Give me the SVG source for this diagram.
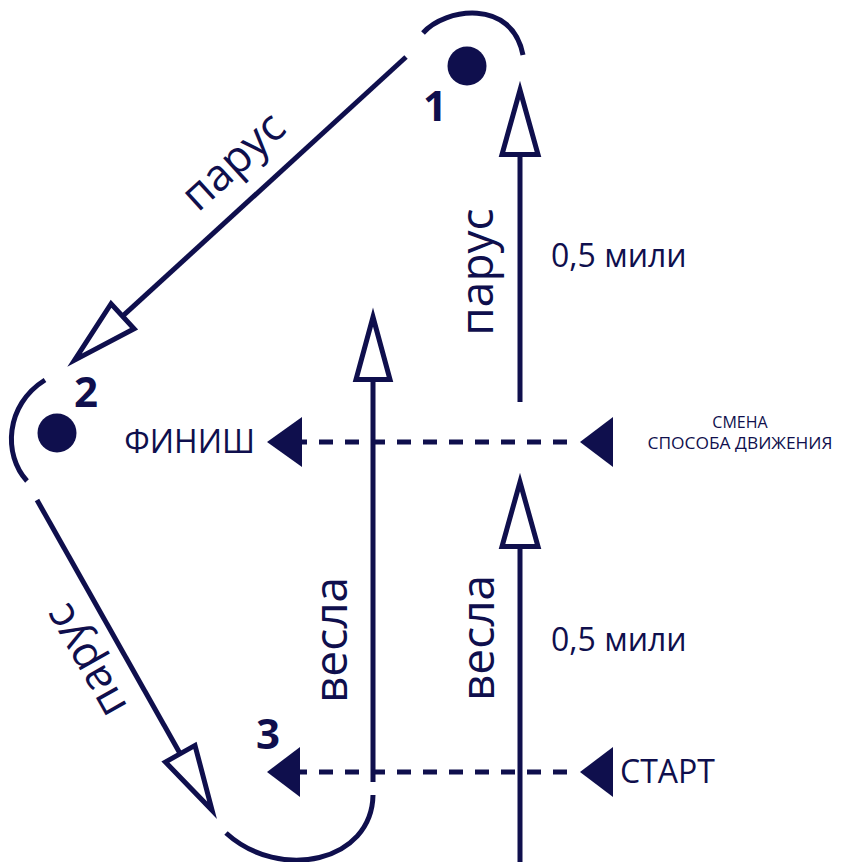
<svg xmlns="http://www.w3.org/2000/svg" width="847" height="862" viewBox="0 0 847 862">
  <defs>
    <style>
      .ln { stroke: #0f0f4d; stroke-width: 5; fill: none; }
      .dash { stroke: #0f0f4d; stroke-width: 5; fill: none; stroke-dasharray: 14 12; }
      .open { fill: #ffffff; stroke: #0f0f4d; stroke-width: 5; stroke-miterlimit: 10; stroke-linejoin: miter; }
      .solid { fill: #0f0f4d; stroke: none; }
      .t { font-family: "Open Sans", "Noto Sans", sans-serif; fill: #0f0f4d; }
      .big { font-size: 46px; }
      .diag { font-size: 44px; }
      .mid { font-size: 32px; }
      .lab { font-size: 32px; }
      .small { font-size: 16px; }
      .num { font-size: 42px; font-weight: 700; }
    </style>
  </defs>
  <rect width="847" height="862" fill="#ffffff"/>

  <g id="connectors">
    <!-- leg 1 -> 2 -->
    <line class="ln" x1="406" y1="57" x2="122.6" y2="316.2"/>
    <polygon class="open" points="74.6,360.1 134.1,328.7 111.1,303.7"/>
    <!-- leg 2 -> 3 -->
    <line class="ln" x1="37" y1="500" x2="180.2" y2="753.7"/>
    <polygon class="open" points="212.1,810.3 195,745.4 165.4,762"/>
    <!-- left vertical (oars) -->
    <line class="ln" x1="373" y1="379.5" x2="373" y2="782"/>
    <polygon class="open" points="373,317 390,379.5 356,379.5"/>
    <!-- right vertical lower (oars) -->
    <line class="ln" x1="520" y1="546.5" x2="520" y2="862"/>
    <polygon class="open" points="520,482 538,546.5 502,546.5"/>
    <!-- right vertical upper (sail) -->
    <line class="ln" x1="520" y1="154.5" x2="520" y2="402"/>
    <polygon class="open" points="520,90 538,154.5 502,154.5"/>
    <!-- finish dashed -->
    <line class="dash" x1="567" y1="442" x2="300" y2="442"/>
    <polygon class="solid" points="267,442 302,417 302,467"/>
    <polygon class="solid" points="580,442 613,417 613,467"/>
    <!-- start dashed -->
    <line class="dash" x1="567" y1="772" x2="300" y2="772"/>
    <polygon class="solid" points="267,772 300,747 300,797"/>
    <polygon class="solid" points="580,772 613,747 613,797"/>
  </g>

  <g id="mark1">
    <path class="ln" d="M 423 33 C 445 8, 512 -2, 523 55"/>
    <circle class="solid" cx="467" cy="66" r="19.5"/>
    <text class="t num" x="435" y="121" text-anchor="middle">1</text>
  </g>

  <g id="mark2">
    <path class="ln" d="M 45 380 C 5 405, 3 455, 27 481"/>
    <circle class="solid" cx="57" cy="433" r="19.5"/>
    <text class="t num" x="86" y="407" text-anchor="middle">2</text>
  </g>

  <g id="mark3">
    <path class="ln" d="M 373 795 C 372 862, 280 882, 226 833"/>
    <text class="t num" x="268" y="749" text-anchor="middle">3</text>
  </g>

  <g id="labels">
    <text class="t diag" transform="translate(243,172) rotate(-42.4)" text-anchor="middle">парус</text>
    <text class="t diag" transform="translate(98,654) rotate(-119.4)" text-anchor="middle">парус</text>
    <text class="t big" transform="translate(493,272) rotate(-90)" text-anchor="middle">парус</text>
    <text class="t big" transform="translate(347,640) rotate(-90)" text-anchor="middle">весла</text>
    <text class="t big" transform="translate(494,638) rotate(-90)" text-anchor="middle">весла</text>
    <text class="t mid" x="551" y="267">0,5 мили</text>
    <text class="t mid" x="551" y="651">0,5 мили</text>
  </g>

  <g id="finish">
    <text class="t lab" x="255" y="453" text-anchor="end">ФИНИШ</text>
  </g>
  <g id="change">
    <text class="t small" x="740" y="428" text-anchor="middle">СМЕНА</text>
    <text class="t small" x="740" y="449" text-anchor="middle" textLength="185" lengthAdjust="spacingAndGlyphs">СПОСОБА ДВИЖЕНИЯ</text>
  </g>
  <g id="start">
    <text class="t lab" x="620" y="783">СТАРТ</text>
  </g>
</svg>
